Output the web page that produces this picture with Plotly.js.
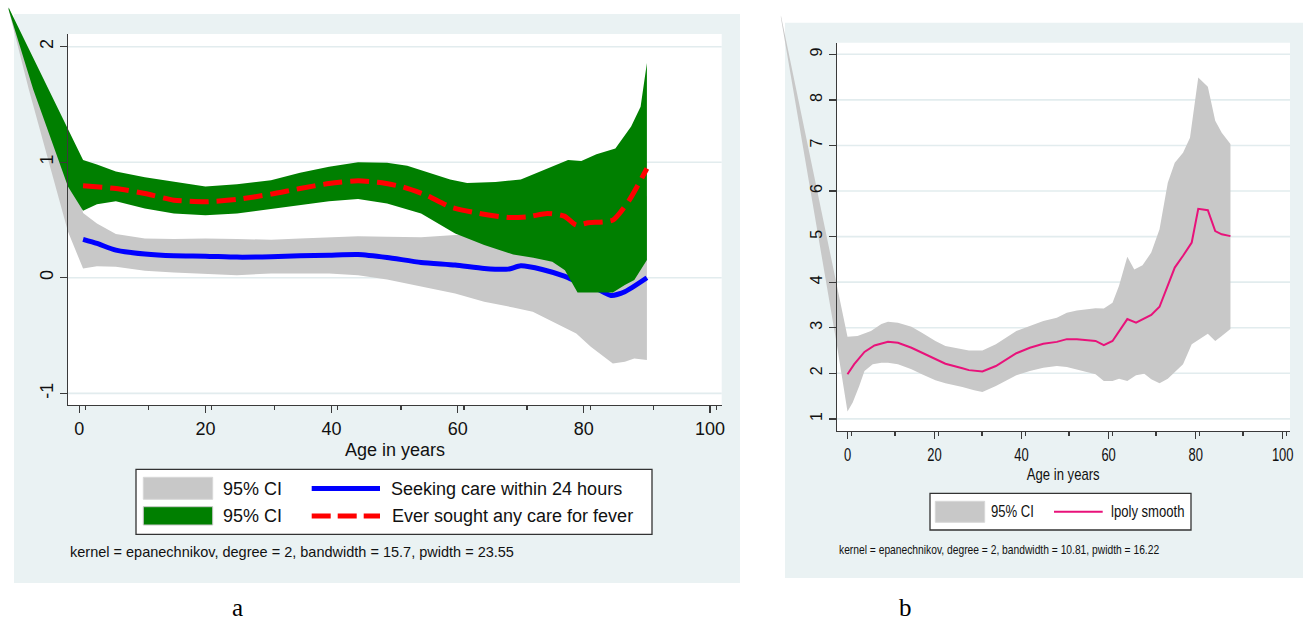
<!DOCTYPE html>
<html>
<head>
<meta charset="utf-8">
<script src="https://cdn.plot.ly/plotly-3.0.1.min.js"></script>
<style>html,body{margin:0;padding:0;background:#fff;}#chart{width:1308px;height:622px;}</style>
</head>
<body>
<div id="chart"></div>
<script>
// ---------------- DATA: panel a ----------------
// 95% CI (gray) around "Seeking care within 24 hours"
const grayA_hiX = [-11.2, -1.8, 0.6, 2.8, 5.8, 10.4, 15, 20, 25, 30.4, 35, 39.6, 44.2, 48.8, 54.2, 59.6, 64.2, 68.8, 71.9, 75, 78.8, 81.1, 84.6, 86.5, 88, 90];
const grayA_hi  = [2.34, 1.10, 0.56, 0.47, 0.38, 0.34, 0.335, 0.34, 0.335, 0.33, 0.34, 0.35, 0.36, 0.355, 0.35, 0.37, 0.38, 0.40, 0.42, 0.45, 0.33, 0.33, 0.43, 0.50, 0.60, 0.71];
const grayA_loX = [-11.2, -8.0, -1.8, 0.6, 2.8, 5.8, 10.4, 15, 20, 25, 30.4, 35, 39.6, 44.2, 48.8, 54.2, 59.6, 64.2, 68.8, 71.9, 75, 78.8, 81.1, 84.6, 86.5, 88, 90];
const grayA_lo  = [2.32, 1.63, 0.40, 0.08, 0.10, 0.095, 0.06, 0.045, 0.032, 0.023, 0.037, 0.037, 0.037, 0.023, -0.014, -0.078, -0.136, -0.208, -0.257, -0.294, -0.381, -0.482, -0.597, -0.741, -0.727, -0.698, -0.712];
// 95% CI (green) around "Ever sought any care for fever"
const greenA_hiX = [-11.2, 0.6, 2.8, 5.8, 10.4, 15, 20, 25, 30.4, 35, 39.6, 44.2, 48.8, 52, 55, 58.8, 61.5, 66, 70, 73, 76, 77.5, 79.6, 82, 85, 87.5, 89, 90];
const greenA_hi  = [2.34, 1.02, 0.98, 0.92, 0.87, 0.83, 0.79, 0.81, 0.845, 0.91, 0.96, 1.0, 0.995, 0.97, 0.92, 0.85, 0.82, 0.83, 0.85, 0.92, 0.99, 1.02, 1.01, 1.07, 1.12, 1.31, 1.48, 1.86];
const greenA_loX = [-11.2, -7.3, -1.8, 0.6, 2.8, 5.8, 10.4, 15, 20, 25, 30.4, 35, 39.6, 44.2, 48.8, 54.2, 59.6, 64.2, 68.8, 72, 75, 77, 79, 84.6, 86.5, 88, 90];
const greenA_lo  = [2.32, 1.63, 0.79, 0.58, 0.637, 0.663, 0.60, 0.557, 0.542, 0.557, 0.591, 0.629, 0.663, 0.681, 0.643, 0.557, 0.384, 0.283, 0.202, 0.173, 0.138, 0.066, -0.127, -0.127, -0.063, -0.02, 0.153];
// Seeking care within 24 hours
const blueA_x = [0.6, 2.8, 5.8, 10.4, 15, 20, 25, 30.4, 35, 39.6, 44.2, 48.8, 54.2, 59.6, 64.2, 68, 70, 73.4, 76.9, 79.6, 81.9, 84.3, 86.5, 90];
const blueA_y = [0.332, 0.297, 0.239, 0.205, 0.19, 0.187, 0.179, 0.182, 0.19, 0.196, 0.202, 0.176, 0.133, 0.11, 0.081, 0.075, 0.104, 0.072, 0.014, -0.05, -0.09, -0.153, -0.121, 0.0];
// Ever sought any care for fever
const redA_x = [0.6, 5.8, 10.4, 15, 20, 25, 30.4, 35, 39.6, 44.2, 48, 51.2, 55, 58.8, 63.4, 68, 71.1, 74.2, 76.9, 78.8, 80.7, 84.6, 87.2, 90];
const redA_y = [0.796, 0.773, 0.73, 0.672, 0.658, 0.678, 0.724, 0.773, 0.816, 0.839, 0.822, 0.787, 0.715, 0.614, 0.557, 0.522, 0.528, 0.557, 0.534, 0.456, 0.476, 0.499, 0.672, 0.946];

// ---------------- DATA: panel b ----------------
const grayB_hiX = [-15.3, 0, 2.3, 5.4, 7.8, 9.3, 11.6, 14.7, 17.1, 20.2, 22.5, 26.4, 27.9, 31, 34.1, 38.8, 41.9, 45, 48.1, 50.4, 52.7, 57, 58.9, 60.9, 62.4, 64.3, 65.9, 67.8, 69.8, 71.7, 73.6, 75.2, 77.1, 78.7, 80.6, 82.8, 84.5, 86, 88];
const grayB_hi  = [9.85, 2.8, 2.82, 2.93, 3.08, 3.13, 3.11, 3.02, 2.89, 2.71, 2.6, 2.53, 2.5, 2.5, 2.64, 2.93, 3.04, 3.15, 3.22, 3.33, 3.38, 3.43, 3.42, 3.55, 3.92, 4.56, 4.28, 4.37, 4.65, 5.16, 6.18, 6.62, 6.84, 7.17, 8.49, 8.29, 7.54, 7.28, 7.03];
const grayB_loX = [-15.3, -2.4, 0, 1.2, 2.7, 3.9, 5.8, 7.8, 9.3, 11.6, 14.7, 17.1, 20.2, 22.5, 26.4, 29.1, 31, 34.1, 38.8, 41.9, 45, 48.1, 50.4, 52.7, 57, 58.9, 60.9, 62.4, 64.3, 66.3, 68.2, 69.8, 71.7, 73.6, 75.2, 77.1, 79.1, 80.6, 82.8, 84.5, 86, 88];
const grayB_lo  = [9.8, 2.6, 1.16, 1.36, 1.72, 2.05, 2.2, 2.23, 2.23, 2.2, 2.09, 1.98, 1.85, 1.78, 1.7, 1.63, 1.59, 1.72, 1.96, 2.05, 2.12, 2.16, 2.14, 2.09, 1.98, 1.83, 1.83, 1.88, 1.83, 1.96, 1.99, 1.87, 1.78, 1.88, 2.03, 2.2, 2.64, 2.73, 2.87, 2.71, 2.82, 2.97];
const pinkB_x = [0, 1.55, 3.9, 6.2, 9.3, 11.6, 14.7, 17.1, 20.2, 22.5, 26.4, 27.9, 31, 34.1, 38.8, 41.9, 45, 48.1, 50.4, 52.7, 57, 58.9, 60.9, 62.4, 64.3, 66.3, 69.8, 71.7, 73.3, 75.2, 77.1, 79.1, 80.6, 82.8, 84.5, 86, 88];
const pinkB_y = [1.98, 2.2, 2.47, 2.61, 2.69, 2.67, 2.56, 2.45, 2.31, 2.21, 2.11, 2.07, 2.04, 2.16, 2.44, 2.56, 2.65, 2.69, 2.75, 2.75, 2.71, 2.62, 2.71, 2.91, 3.19, 3.11, 3.28, 3.46, 3.84, 4.32, 4.58, 4.87, 5.61, 5.58, 5.12, 5.05, 5.01];

// ---------------- ticks & labels ----------------
const xTicksMain = [0, 20, 40, 60, 80, 100];
const xTicksMinor = [0, 10, 20, 30, 40, 50, 60, 70, 80, 90, 100];
const yTicksA = [-1, 0, 1, 2];
const yTicksB = [1, 2, 3, 4, 5, 6, 7, 8, 9];
const xTitle = 'Age in years';
const legendA = ['95% CI', '95% CI', 'Seeking care within 24 hours', 'Ever sought any care for fever'];
const legendB = ['95% CI', 'lpoly smooth'];
const noteA = 'kernel = epanechnikov, degree = 2, bandwidth = 15.7, pwidth = 23.55';
const noteB = 'kernel = epanechnikov, degree = 2, bandwidth = 10.81, pwidth = 16.22';
const panelLabels = ['a', 'b'];

// ---------------- geometry / styles ----------------
const W = 1308, H = 622;
const PX = v => v / W, PY = v => 1 - v / H;
const A = {l: 68, r: 721.7, t: 34, b: 405, bgL: 14, bgR: 740, bgT: 14, bgB: 583};
const B = {l: 837, r: 1290, t: 42.7, b: 431, bgL: 785, bgR: 1303, bgT: 22.7, bgB: 578};
const rangeAx = [-1.79, 101.86], rangeAy = [-1.101, 2.11];
const rangeBx = [-2.41, 101.68], rangeBy = [0.734, 9.255];
const BG = '#EAF2F3', GRID = '#E2ECEE', CI_GRAY = '#C8C8C8', GREEN = '#007F00';
const AXC = '#3a3a3a';
const FA = 'Liberation Sans, Arial, sans-serif';
const SQUEEZE_B = 0.77;

const domAx = [PX(A.l), PX(A.r)], domAy = [PY(A.b), PY(A.t)];
const domBx = [PX(B.l), PX(B.r)], domBy = [PY(B.b), PY(B.t)];
function widen(r, d) { const k = (r[1] - r[0]) / (d[1] - d[0]); return [r[0] - d[0] * k, r[1] + (1 - d[1]) * k]; }
function band(xh, yh, xl, yl) { return {x: xh.concat(xl.slice().reverse()), y: yh.concat(yl.slice().reverse())}; }

const gA = band(grayA_hiX, grayA_hi, grayA_loX, grayA_lo);
const grA = band(greenA_hiX, greenA_hi, greenA_loX, greenA_lo);
const gB = band(grayB_hiX, grayB_hi, grayB_loX, grayB_lo);

const ghost = (x, y, xa, ya) => ({type: 'scatter', mode: 'lines', x: x, y: y, opacity: 0, line: {width: 0}, xaxis: xa, yaxis: ya, hoverinfo: 'skip'});
const traces = [
  {type: 'scatter', mode: 'lines', x: gA.x, y: gA.y, fill: 'toself', fillcolor: CI_GRAY, line: {width: 0, color: CI_GRAY}, xaxis: 'x', yaxis: 'y', hoverinfo: 'skip'},
  {type: 'scatter', mode: 'lines', x: blueA_x, y: blueA_y, line: {color: '#0000FF', width: 5, shape: 'spline', smoothing: 0.6}, xaxis: 'x', yaxis: 'y', hoverinfo: 'skip'},
  {type: 'scatter', mode: 'lines', x: grA.x, y: grA.y, fill: 'toself', fillcolor: GREEN, line: {width: 0, color: GREEN}, xaxis: 'x', yaxis: 'y', hoverinfo: 'skip'},
  {type: 'scatter', mode: 'lines', x: redA_x, y: redA_y, line: {color: '#FF0000', width: 5, dash: '19px,8px', shape: 'spline', smoothing: 0.6}, xaxis: 'x', yaxis: 'y', hoverinfo: 'skip'},
  {type: 'scatter', mode: 'lines', x: gB.x, y: gB.y, fill: 'toself', fillcolor: CI_GRAY, line: {width: 0, color: CI_GRAY}, xaxis: 'x2', yaxis: 'y2', hoverinfo: 'skip'},
  {type: 'scatter', mode: 'lines', x: pinkB_x, y: pinkB_y, line: {color: '#E8127A', width: 2}, xaxis: 'x2', yaxis: 'y2', hoverinfo: 'skip'},
  // invisible copies so that the visible axis frames get their subplots
  ghost(redA_x, redA_y, 'x3', 'y3'),
  ghost(redA_x, redA_y, 'x5', 'y3'),
  ghost(pinkB_x, pinkB_y, 'x4', 'y4'),
  ghost(pinkB_x, pinkB_y, 'x6', 'y4')
];

const hidden = {visible: false, showgrid: false, zeroline: false, fixedrange: true};
function visX(dom, range, anchor, size) {
  return {domain: dom, range: range, anchor: anchor, showline: true, linecolor: AXC, linewidth: 1.3,
    ticks: 'outside', ticklen: 7, tickwidth: 1.3, tickcolor: AXC, tickmode: 'array', tickvals: xTicksMain,
    ticktext: xTicksMain.map(String), tickfont: {family: FA, size: size, color: '#111'},
    showgrid: false, zeroline: false, fixedrange: true};
}
function visY(dom, range, anchor, vals, size) {
  return {domain: dom, range: range, anchor: anchor, showline: true, linecolor: AXC, linewidth: 1.3,
    ticks: 'outside', ticklen: 7, tickwidth: 1.3, tickcolor: AXC, tickmode: 'array', tickvals: vals,
    ticktext: vals.map(String), tickangle: -90, tickfont: {family: FA, size: size, color: '#111'},
    showgrid: false, zeroline: false, fixedrange: true};
}
function minorX(dom, range, shift, over, anchor) {
  return {domain: dom, range: [range[0] - shift, range[1] - shift], overlaying: over, anchor: anchor,
    showline: false, ticks: 'outside', ticklen: 4, tickwidth: 1.2, tickcolor: AXC, tickmode: 'array',
    tickvals: xTicksMinor, showticklabels: false, showgrid: false, zeroline: false, fixedrange: true};
}

const shapes = [];
function rectPx(x0, y0, x1, y1, fill, layer, lineColor, lw) {
  shapes.push({type: 'rect', xref: 'paper', yref: 'paper', x0: PX(x0), x1: PX(x1), y0: PY(y1), y1: PY(y0),
    fillcolor: fill, line: {color: lineColor || fill, width: lw || 0}, layer: layer});
}
function linePx(x0, y, x1, color, width, dash) {
  shapes.push({type: 'line', xref: 'paper', yref: 'paper', x0: PX(x0), x1: PX(x1), y0: PY(y), y1: PY(y),
    line: {color: color, width: width, dash: dash || 'solid'}, layer: 'above'});
}
// panel backgrounds
rectPx(A.bgL, A.bgT, A.bgR, A.bgB, BG, 'below');
rectPx(A.l, A.t, A.r, A.b, '#FFFFFF', 'below');
rectPx(B.bgL, B.bgT, B.bgR, B.bgB, BG, 'below');
rectPx(B.l, B.t, B.r, B.b, '#FFFFFF', 'below');
// gridlines (under the data)
yTicksA.forEach(v => shapes.push({type: 'line', xref: 'x', yref: 'y', x0: rangeAx[0], x1: rangeAx[1], y0: v, y1: v, line: {color: GRID, width: 1.6}, layer: 'below'}));
yTicksB.forEach(v => shapes.push({type: 'line', xref: 'x2', yref: 'y2', x0: rangeBx[0], x1: rangeBx[1], y0: v, y1: v, line: {color: GRID, width: 1.6}, layer: 'below'}));
// legend a
rectPx(136, 469.3, 652, 534.3, '#FFFFFF', 'above', '#333333', 1.3);
rectPx(143.3, 477.3, 212.7, 499.3, CI_GRAY, 'above', '#D8D8D8', 1);
rectPx(143.3, 506.7, 212.7, 525, GREEN, 'above', '#C8C8C8', 1);
linePx(311.7, 488.5, 380, '#0000FF', 5);
linePx(311.7, 516, 380, '#FF0000', 5, '19px,7px');
// legend b
rectPx(930, 493.3, 1191, 530, '#FFFFFF', 'above', '#333333', 1.3);
rectPx(935.3, 501.3, 984.7, 522.3, CI_GRAY, 'above', '#D8D8D8', 1);
linePx(1054, 511.7, 1102.7, '#E8127A', 2);

const annotations = [];
const narrowIdx = [];
function text(t, x, y, size, xanchor, narrow, font, color) {
  if (narrow) narrowIdx.push({i: annotations.length, f: narrow});
  const xa = xanchor || 'left';
  annotations.push({text: t, xref: 'paper', yref: 'paper', x: PX(x), y: PY(y), xanchor: xa, yanchor: 'middle',
    align: xa === 'center' ? 'center' : 'left', borderpad: 0,
    showarrow: false, font: {family: font || FA, size: size, color: color || '#111'}});
}
text(xTitle, (A.l + A.r) / 2, 449.5, 18, 'center');
text(legendA[0], 222, 488.5, 18);
text(legendA[1], 222, 516, 18);
text(legendA[2], 390, 488.5, 18);
text(legendA[3], 391, 516, 18);
text(noteA, 69, 551.5, 14.5);
text(xTitle, (B.l + B.r) / 2, 474.5, 17, 'center', SQUEEZE_B);
text(legendB[0], 990, 511.7, 17, 'left', SQUEEZE_B);
text(legendB[1], 1110, 511.7, 17, 'left', SQUEEZE_B);
text(noteB, 838, 549.5, 13, 'left', 0.79);
text(panelLabels[0], 237, 607, 25, 'center', null, 'Liberation Serif, Times New Roman, serif', '#000');
text(panelLabels[1], 906, 607, 25, 'center', null, 'Liberation Serif, Times New Roman, serif', '#000');

const layout = {
  width: W, height: H, margin: {l: 0, r: 0, t: 0, b: 0, pad: 0},
  paper_bgcolor: '#FFFFFF', plot_bgcolor: 'rgba(0,0,0,0)', showlegend: false,
  xaxis: Object.assign({domain: [0, 1], range: widen(rangeAx, domAx), anchor: 'y'}, hidden),
  yaxis: Object.assign({domain: [0, 1], range: widen(rangeAy, domAy), anchor: 'x'}, hidden),
  xaxis2: Object.assign({domain: [0, 1], range: widen(rangeBx, domBx), anchor: 'y2'}, hidden),
  yaxis2: Object.assign({domain: [0, 1], range: widen(rangeBy, domBy), anchor: 'x2'}, hidden),
  xaxis3: visX(domAx, rangeAx, 'y3', 18),
  yaxis3: visY(domAy, rangeAy, 'x3', yTicksA, 18),
  xaxis4: visX(domBx, rangeBx, 'y4', 18),
  yaxis4: visY(domBy, rangeBy, 'x4', yTicksB, 16),
  xaxis5: minorX(domAx, rangeAx, 1.0, 'x3', 'y3'),
  xaxis6: minorX(domBx, rangeBx, 0.9, 'x4', 'y4'),
  shapes: shapes, annotations: annotations
};

function squeeze(node, f) {
  const w = node.getComputedTextLength();
  if (w > 0) { node.setAttribute('textLength', (w * f).toFixed(2)); node.setAttribute('lengthAdjust', 'spacingAndGlyphs'); }
}
Plotly.newPlot('chart', traces, layout, {staticPlot: true, displayModeBar: false}).then(gd => {
  const anns = gd.querySelectorAll('.annotation');
  narrowIdx.forEach(o => {
    const g = gd.querySelector('.annotation[data-index="' + o.i + '"] text.annotation-text') || (anns[o.i] && anns[o.i].querySelector('text'));
    if (g) squeeze(g, o.f);
  });
  gd.querySelectorAll('.subplot.x4y4 .xaxislayer-above text').forEach(t => squeeze(t, 0.72));
});
</script>
</body>
</html>
